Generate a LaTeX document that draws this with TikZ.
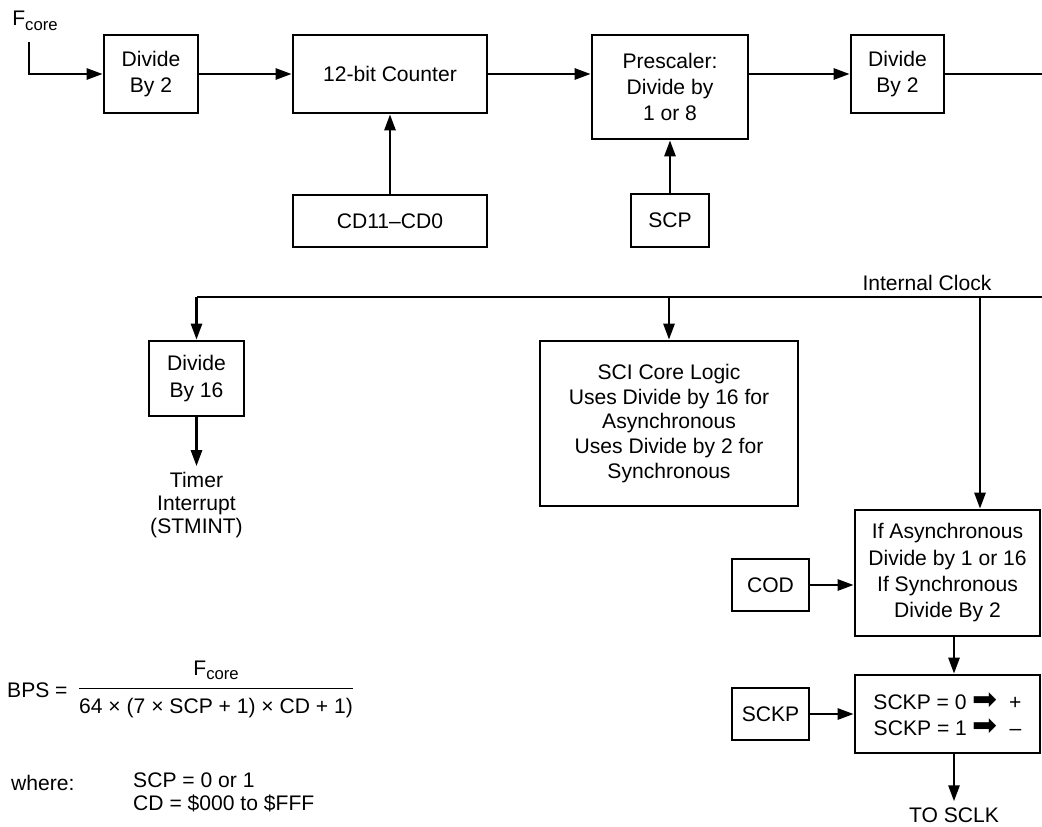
\documentclass[tikz,border=0pt]{standalone}
\usepackage{fontspec}
\setmainfont{Liberation Sans}
\newfontfamily\arrowfont{DejaVu Sans}
\usetikzlibrary{arrows.meta,positioning}

\newcommand{\fcore}{F\raisebox{-0.4ex}{\fontsize{9.5}{10}\selectfont core}}
\newcommand{\thenarrow}{{\arrowfont\fontsize{17}{15}\selectfont ➡}}

\begin{document}
\begin{tikzpicture}[
    block/.style={draw, line width=1.5pt, align=center, inner sep=2pt, font=\fontsize{12}{15}\selectfont},
    txt/.style={align=center, font=\fontsize{12}{13}\selectfont},
    arrow/.style={-{Triangle[length=3.2mm,width=2.2mm]}, line width=1.5pt},
    wire/.style={line width=1.5pt}
]
    \useasboundingbox (0,0) rectangle (20.84,-16.54);

    % Clock input
    \node[txt] (fcore) at (0.7,-0.42) {\fcore};
    \coordinate (fin) at (0.58,-0.84);

    % Top chain
    \node[block, minimum width=1.88cm, minimum height=1.56cm] (div2a) at (3.02,-1.48) {Divide\\By 2};
    \node[block, minimum width=3.88cm, minimum height=1.56cm] (counter) at (7.8,-1.48) {12-bit Counter};
    \node[block, minimum width=3.12cm, minimum height=2.08cm] (presc) at (13.4,-1.74) {Prescaler:\\Divide by\\1 or 8};
    \node[block, minimum width=1.86cm, minimum height=1.56cm] (div2b) at (17.95,-1.48) {Divide\\By 2};
    \coordinate (outr) at (20.84,-1.48);

    % Control inputs
    \node[block, minimum width=3.88cm, minimum height=1.04cm] (cd) at (7.8,-4.42) {CD11–CD0};
    \node[block, minimum width=1.56cm, minimum height=1.06cm] (scp) at (13.4,-4.41) {SCP};

    % Arrows
    \draw[arrow] (fin) |- (div2a.west);
    \draw[arrow] (div2a) -- (counter);
    \draw[arrow] (counter.east) -- (counter.east -| presc.west);
    \draw[arrow] (presc.east |- div2b.west) -- (div2b.west);
    \draw[wire] (div2b) -- (outr);
    \draw[arrow] (cd) -- (counter);
    \draw[arrow] (scp) -- (presc);

    % Internal clock bus
    \node[txt] (intclk) at (18.54,-5.66) {Internal Clock};
    \coordinate (busl) at (3.93,-5.94);
    \coordinate (busr) at (20.84,-5.94);
    \coordinate (clkdrop) at (19.6,-5.94);
    \draw[wire] (busr) -- (busl);

    % Timer branch
    \node[block, minimum width=1.9cm, minimum height=1.5cm] (div16) at (3.93,-7.57) {Divide\\By 16};
    \node[txt] (timer) at (3.93,-10.1) {Timer\\Interrupt\\(STMINT)};
    \draw[arrow] (busl) -- (div16);
    \draw[arrow] (div16) -- (timer);

    % SCI core
    \node[block, minimum width=5.16cm, minimum height=3.3cm, font=\fontsize{12}{14}\selectfont] (sci) at (13.38,-8.47) {SCI Core Logic\\Uses Divide by 16 for\\Asynchronous\\Uses Divide by 2 for\\Synchronous};
    \draw[arrow] (busl -| sci.north) -- (sci.north);

    % SCLK path
    \node[block, minimum width=3.7cm, minimum height=2.52cm] (ifasync) at (18.95,-11.46) {If Asynchronous\\Divide by 1 or 16\\If Synchronous\\Divide By 2};
    \node[block, minimum width=1.54cm, minimum height=1.04cm] (cod) at (15.41,-11.7) {COD};
    \node[block, minimum width=3.7cm, minimum height=1.56cm] (sckpeq) at (18.95,-14.28) {SCKP = 0 \thenarrow\ \ +\\SCKP = 1 \thenarrow\ \ –};
    \node[block, minimum width=1.54cm, minimum height=1.04cm] (sckp) at (15.41,-14.28) {SCKP};
    \node[txt] (sclk) at (19.08,-16.3) {TO SCLK};
    \draw[arrow] (clkdrop) -- (clkdrop |- ifasync.north);
    \draw[arrow] (cod) -- (cod -| ifasync.west);
    \draw[arrow] (sckp) -- (sckpeq);
    \draw[arrow] (sclk.north |- ifasync.south) -- (sclk.north |- sckpeq.north);
    \draw[arrow] (sclk.north |- sckpeq.south) -- (sclk.north);

    % Baud rate formula
    \node[txt, anchor=west] (bps) at (0.02,-13.8) {BPS =};
    \node[txt, anchor=west] (frac) at (1.46,-13.8) {\setlength{\arrayrulewidth}{0.8pt}\begin{tabular}{@{}c@{}}\fcore\\[3pt]\hline\rule{0pt}{14pt}64 × (7 × SCP + 1) × CD + 1)\end{tabular}};
    \node[txt, anchor=west] (where) at (0.1,-15.66) {where:};
    \node[txt, anchor=west, align=left] (range) at (2.54,-15.84) {SCP = 0 or 1\\CD = \$000 to \$FFF};
\end{tikzpicture}
\end{document}
